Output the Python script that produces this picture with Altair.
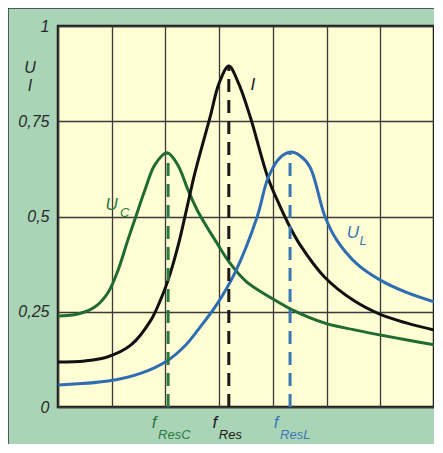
import altair as alt
import pandas as pd

# ---- data (x in grid divisions 0..7, y relative 0..1) ----
i_x = [0, 0.5, 0.93, 1.36, 1.73, 1.92, 2.05, 2.23, 2.38, 2.55, 2.83, 3.0, 3.18, 3.36, 3.58, 3.91, 4.13, 4.32, 4.51, 4.97, 5.5, 6.0, 6.5, 7.0]
i_y = [0.118, 0.121, 0.132, 0.163, 0.228, 0.285, 0.333, 0.42, 0.51, 0.615, 0.76, 0.85, 0.895, 0.85, 0.761, 0.601, 0.528, 0.472, 0.425, 0.34, 0.28, 0.243, 0.22, 0.202]

uc_x = [0, 0.37, 0.69, 0.93, 1.12, 1.30, 1.45, 1.62, 1.80, 2.03, 2.23, 2.42, 2.61, 2.96, 3.2, 3.5, 4.13, 4.36, 4.97, 5.5, 6.0, 6.5, 7.0]
uc_y = [0.239, 0.244, 0.263, 0.3, 0.36, 0.438, 0.5, 0.57, 0.635, 0.667, 0.635, 0.57, 0.512, 0.43, 0.378, 0.33, 0.273, 0.255, 0.22, 0.203, 0.189, 0.176, 0.163]

ul_x = [0, 0.93, 1.55, 2.05, 2.36, 2.61, 2.96, 3.3, 3.71, 3.91, 4.13, 4.34, 4.5, 4.69, 4.97, 5.19, 5.57, 6.0, 6.5, 7.0]
ul_y = [0.058, 0.068, 0.089, 0.123, 0.16, 0.203, 0.27, 0.354, 0.5, 0.601, 0.654, 0.669, 0.66, 0.63, 0.5, 0.438, 0.375, 0.333, 0.3, 0.276]

series = ["UC", "I", "UL"]
colors = ["#1f6b32", "#111111", "#2f6db3"]

res_names = ["ResC", "Res", "ResL"]
res_x = [2.05, 3.18, 4.32]
res_top = [0.667, 0.895, 0.669]
res_colors = ["#2c7a3e", "#1a1a1a", "#3a78b5"]

y_ticks = [0, 0.25, 0.5, 0.75, 1]
x_grid = [0, 1, 2, 3, 4, 5, 6, 7]

FONT = "Liberation Sans"
W, H = 376, 381

rows = []
for name, xs, ys in [("UC", uc_x, uc_y), ("I", i_x, i_y), ("UL", ul_x, ul_y)]:
    for k, (a, b) in enumerate(zip(xs, ys)):
        rows.append({"series": name, "x": a, "y": b, "o": k})
curves = pd.DataFrame(rows)

res_df = pd.DataFrame({"name": res_names, "x": res_x, "top": res_top, "zero": [0, 0, 0],
                       "color": res_colors})

xsc = alt.Scale(domain=[0, 7], nice=False, zero=False)
ysc = alt.Scale(domain=[0, 1], nice=False)

x_axis = alt.Axis(values=x_grid, labels=False, ticks=False, domain=False, grid=True,
                  gridColor="#3a3a3a", gridWidth=1.3, gridOpacity=1, title=None)
y_axis = alt.Axis(values=y_ticks, labelExpr="replace(format(datum.value, '.2~f'), '.', ',')",
                  ticks=False, domain=False, grid=True, gridColor="#3a3a3a", gridWidth=1.3,
                  gridOpacity=1, labelFont=FONT, labelFontStyle="italic", labelFontSize=16,
                  labelColor="#2a2a2a", labelPadding=9, title=None)

color_scale = alt.Scale(domain=series, range=colors)

lines = alt.Chart(curves).mark_line(strokeWidth=3, interpolate="catmull-rom").encode(
    x=alt.X("x:Q", scale=xsc, axis=x_axis),
    y=alt.Y("y:Q", scale=ysc, axis=y_axis),
    color=alt.Color("series:N", scale=color_scale, legend=None),
    detail="series:N",
    order="o:Q",
)

dashes = alt.Chart(res_df).mark_rule(strokeWidth=3, strokeDash=[13, 8]).encode(
    x=alt.X("x:Q", scale=xsc, axis=x_axis),
    y=alt.Y("zero:Q", scale=ysc, axis=y_axis),
    y2="top:Q",
    color=alt.Color("color:N", scale=None),
)

f_main = alt.Chart(res_df).mark_text(text="f", font=FONT, fontStyle="italic", fontSize=17,
                                     align="center", baseline="middle", dx=-14).encode(
    x=alt.X("x:Q", scale=xsc, axis=x_axis),
    y=alt.value(H + 16),
    color=alt.Color("color:N", scale=None),
)
f_sub = alt.Chart(res_df).mark_text(font=FONT, fontStyle="italic", fontSize=13,
                                    align="left", baseline="middle", dx=-10).encode(
    x=alt.X("x:Q", scale=xsc, axis=x_axis),
    y=alt.value(H + 28),
    text="name:N",
    color=alt.Color("color:N", scale=None),
)

lab_df = pd.DataFrame({
    "t": ["U", "C", "U", "L", "I"],
    "x": [1.0, 1.24, 5.49, 5.68, 3.63],
    "y": [0.53, 0.51, 0.457, 0.437, 0.845],
    "size": [17, 13, 17, 13, 17],
    "color": ["#2c7a3e", "#2c7a3e", "#3a78b5", "#3a78b5", "#1a1a1a"],
})
curve_labels = alt.Chart(lab_df).mark_text(font=FONT, fontStyle="italic", align="center",
                                           baseline="middle").encode(
    x=alt.X("x:Q", scale=xsc, axis=x_axis),
    y=alt.Y("y:Q", scale=ysc, axis=y_axis),
    text="t:N",
    size=alt.Size("size:Q", scale=None, legend=None),
    color=alt.Color("color:N", scale=None),
)

ax_df = pd.DataFrame({"t": ["U", "I"], "y": [0.89, 0.843]})
ax_title = alt.Chart(ax_df).mark_text(font=FONT, fontStyle="italic", fontSize=16,
                                      color="#2a2a2a", align="center",
                                      baseline="middle").encode(
    x=alt.value(-28),
    y=alt.Y("y:Q", scale=ysc, axis=y_axis),
    text="t:N",
)

frame_top = alt.Chart(pd.DataFrame({"a": [0]})).mark_rule(color="#333333", strokeWidth=1.5).encode(
    x=alt.value(-50), x2=alt.value(W + 10), y=alt.value(-18))
frame_left = alt.Chart(pd.DataFrame({"a": [0]})).mark_rule(color="#333333", strokeWidth=1.5).encode(
    x=alt.value(-50), y=alt.value(-18), y2=alt.value(H + 40))

chart = alt.layer(lines, dashes, f_main, f_sub, curve_labels, ax_title, frame_top, frame_left).properties(
    width=W, height=H,
    autosize=alt.AutoSizeParams(type="none"),
    padding={"left": 50, "top": 18, "right": 0, "bottom": 37},
    background="#a9d4b6",
).configure_view(fill="#fffdd3", stroke="#1a1a1a", strokeWidth=2.5)

chart.save("out.html", embed_options={"renderer": "svg", "actions": False})
